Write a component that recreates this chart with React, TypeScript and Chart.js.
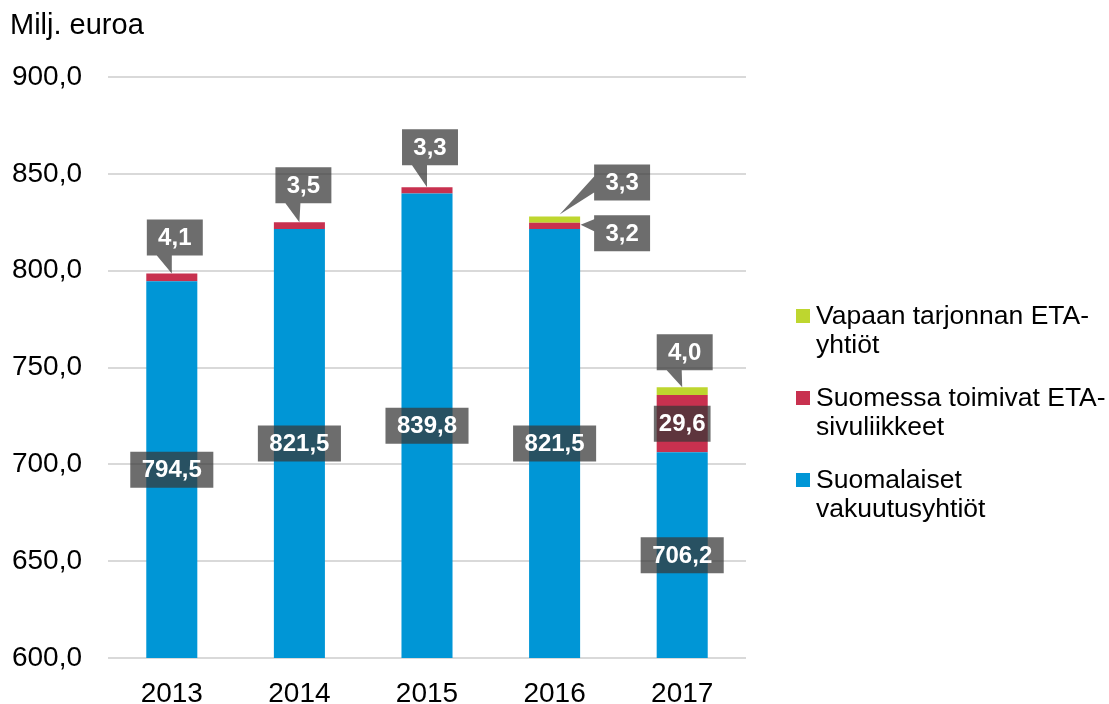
import React, { useEffect, useRef } from "react";
import { Chart, registerables } from "chart.js";

Chart.register(...registerables);

// ---- data ----
const categories = ["2013", "2014", "2015", "2016", "2017"];
const suomalaiset = [794.5, 821.5, 839.8, 821.5, 706.2];
const sivuliikkeet = [4.1, 3.5, 3.3, 3.2, 29.6];
const vapaan = [null, null, null, 3.3, 4.0];
const seriesNames = [
  "Suomalaiset vakuutusyhtiöt",
  "Suomessa toimivat ETA-sivuliikkeet",
  "Vapaan tarjonnan ETA-yhtiöt",
];
const yMin = 600;
const yMax = 900;
const yStep = 50;
const yTitle = "Milj. euroa";

// ---- styles ----
const colors = ["#0096d6", "#c8314f", "#bed62f"];
const FONT = '"Liberation Sans", Arial, sans-serif';
const BOX_FILL = "rgba(55,55,55,0.73)";

type Callout = {
  ds: number;
  i: number;
  mode: "visibleMid" | "mid" | "top";
  pad: number;
  dx?: number;
  dy?: number;
  pointer?: { side: "bottom" | "left"; a: number; b: number; tipDx: number; tipDy: number };
};

const callouts: Callout[] = [
  { ds: 0, i: 0, mode: "visibleMid", pad: 11.5 },
  { ds: 0, i: 1, mode: "visibleMid", pad: 11.5 },
  { ds: 0, i: 2, mode: "visibleMid", pad: 11.5 },
  { ds: 0, i: 3, mode: "visibleMid", pad: 11.5 },
  { ds: 0, i: 4, mode: "visibleMid", pad: 11.5 },
  { ds: 1, i: 0, mode: "top", pad: 11.3, dx: 3, dy: -36, pointer: { side: "bottom", a: 10, b: 25, tipDx: 0, tipDy: 0 } },
  { ds: 1, i: 1, mode: "top", pad: 11.3, dx: 4, dy: -37, pointer: { side: "bottom", a: 10, b: 25, tipDx: 0, tipDy: 0 } },
  { ds: 1, i: 2, mode: "top", pad: 11.3, dx: 3, dy: -40, pointer: { side: "bottom", a: 10, b: 25, tipDx: 0, tipDy: 0 } },
  { ds: 2, i: 3, mode: "top", pad: 11.3, dx: 67.5, dy: -34, pointer: { side: "left", a: 12, b: 28, tipDx: 5, tipDy: -2 } },
  { ds: 1, i: 3, mode: "top", pad: 11.3, dx: 67.5, dy: 10.5, pointer: { side: "left", a: 4, b: 16, tipDx: 26, tipDy: 2 } },
  { ds: 2, i: 4, mode: "top", pad: 11.3, dx: 2.5, dy: -35, pointer: { side: "bottom", a: 10, b: 25, tipDx: 0, tipDy: 0 } },
  { ds: 1, i: 4, mode: "mid", pad: 5 },
];

const fmt = (v: number) => v.toFixed(1).replace(".", ",");

const calloutPlugin = {
  id: "callouts",
  afterDatasetsDraw(chart: any) {
    const ctx = chart.ctx as CanvasRenderingContext2D;
    const area = chart.chartArea;
    ctx.save();
    ctx.font = `bold 24px ${FONT}`;
    for (const c of callouts) {
      const meta = chart.getDatasetMeta(c.ds);
      const el = meta.data[c.i] as any;
      const v = chart.data.datasets[c.ds].data[c.i];
      if (!el || v == null) continue;
      const text = fmt(v);
      const tw = ctx.measureText(text).width;
      const w = tw + 2 * c.pad;
      const h = 36;
      let cx = el.x;
      let cy = el.y;
      if (c.mode === "visibleMid") {
        cy = (el.y + Math.min(el.base, area.bottom)) / 2;
      } else if (c.mode === "mid") {
        cy = (el.y + el.base) / 2;
      } else {
        cx = el.x + (c.dx || 0);
        cy = el.y + (c.dy || 0);
      }
      const l = cx - w / 2;
      const t = cy - h / 2;
      const r = l + w;
      const b = t + h;
      ctx.beginPath();
      const p = c.pointer;
      if (p) {
        const tx = el.x + p.tipDx;
        const ty = el.y + p.tipDy;
        if (p.side === "bottom") {
          ctx.moveTo(l, t);
          ctx.lineTo(r, t);
          ctx.lineTo(r, b);
          ctx.lineTo(l + p.b, b);
          ctx.lineTo(tx, ty);
          ctx.lineTo(l + p.a, b);
          ctx.lineTo(l, b);
          ctx.closePath();
        } else {
          ctx.moveTo(l, t);
          ctx.lineTo(r, t);
          ctx.lineTo(r, b);
          ctx.lineTo(l, b);
          ctx.lineTo(l, t + p.b);
          ctx.lineTo(tx, ty);
          ctx.lineTo(l, t + p.a);
          ctx.closePath();
        }
      } else {
        ctx.rect(l, t, w, h);
      }
      ctx.fillStyle = BOX_FILL;
      ctx.fill();
      ctx.fillStyle = "#ffffff";
      ctx.textAlign = "center";
      ctx.textBaseline = "middle";
      ctx.fillText(text, cx, cy + 1);
    }
    ctx.restore();
  },
};

const titleLegendPlugin = {
  id: "titleLegend",
  afterDraw(chart: any) {
    const ctx = chart.ctx as CanvasRenderingContext2D;
    ctx.save();
    // axis title
    ctx.font = `29px ${FONT}`;
    ctx.fillStyle = "#000000";
    ctx.textAlign = "left";
    ctx.textBaseline = "middle";
    ctx.fillText(yTitle, 10, 26);

    // legend (reverse order)
    ctx.font = `26.5px ${FONT}`;
    const textX = 816;
    const maxW = chart.width - textX;
    const order = chart.data.datasets.map((_: any, k: number) => k).reverse();
    let y = 317;
    for (const k of order) {
      const ds = chart.data.datasets[k];
      const tokens: string[] = String(ds.label).split(/(?<=[ -])/);
      const lines: string[] = [];
      let cur = "";
      for (const tok of tokens) {
        const test = cur + tok;
        if (cur && ctx.measureText(test.trimEnd()).width > maxW) {
          lines.push(cur.trimEnd());
          cur = tok;
        } else {
          cur = test;
        }
      }
      if (cur) lines.push(cur.trimEnd());
      ctx.fillStyle = ds.backgroundColor;
      ctx.fillRect(796, y - 8, 14, 14);
      ctx.fillStyle = "#000000";
      lines.forEach((ln, li) => ctx.fillText(ln, textX, y + li * 29));
      y += 82;
    }
    ctx.restore();
  },
};

export default function App() {
  const ref = useRef<HTMLCanvasElement | null>(null);
  useEffect(() => {
    document.body.style.margin = "0";
    const canvas = ref.current;
    if (!canvas) return;
    const chart = new Chart(canvas, {
      type: "bar",
      data: {
        labels: categories,
        datasets: [
          { label: seriesNames[0], data: suomalaiset, backgroundColor: colors[0] },
          { label: seriesNames[1], data: sivuliikkeet, backgroundColor: colors[1] },
          { label: seriesNames[2], data: vapaan as any, backgroundColor: colors[2] },
        ],
      },
      options: {
        responsive: false,
        animation: false,
        devicePixelRatio: 1,
        layout: { padding: { top: 77, right: 363, left: 0, bottom: 0 } },
        datasets: { bar: { categoryPercentage: 0.8, barPercentage: 0.5, borderWidth: 0 } },
        plugins: {
          legend: { display: false },
          title: { display: false },
          tooltip: { enabled: false },
        },
        scales: {
          x: {
            stacked: true,
            grid: { display: false },
            border: { display: false },
            ticks: { color: "#000000", font: { family: FONT, size: 28 }, padding: 11 },
            afterFit: (s: any) => {
              s.height = 46;
            },
          },
          y: {
            stacked: true,
            min: yMin,
            max: yMax,
            grid: { color: "#d9d9d9", lineWidth: 2, drawTicks: false },
            border: { display: false },
            ticks: {
              stepSize: yStep,
              color: "#000000",
              font: { family: FONT, size: 28 },
              padding: 26,
              callback: (v: any) => fmt(Number(v)),
            },
            afterFit: (s: any) => {
              s.width = 108;
            },
          },
        },
      },
      plugins: [calloutPlugin, titleLegendPlugin],
    });
    return () => chart.destroy();
  }, []);
  return (
    <div style={{ width: 1109, height: 704, position: "relative", overflow: "hidden" }}>
      <canvas ref={ref} width={1109} height={704} style={{ display: "block" }} />
    </div>
  );
}
